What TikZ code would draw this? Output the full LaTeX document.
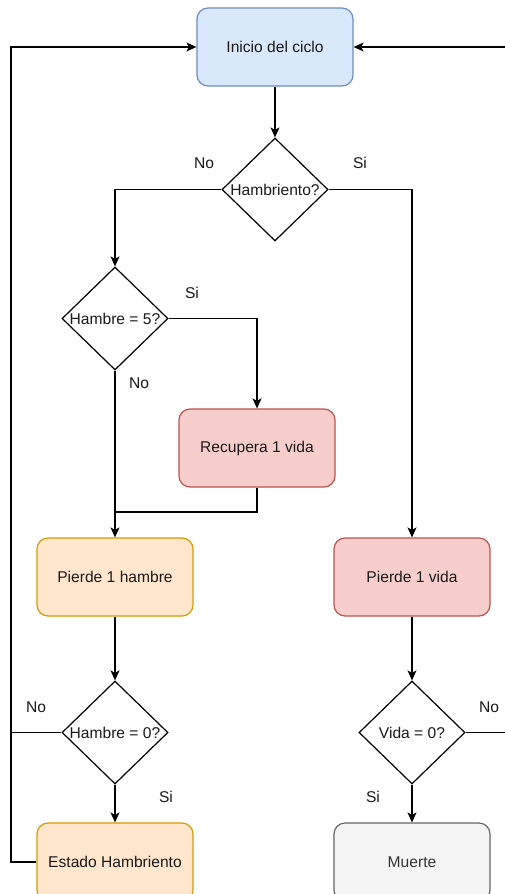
\documentclass[tikz,border=0pt]{standalone}
\usepackage{fontspec}
\setmainfont{Liberation Sans}
\usetikzlibrary{shapes.geometric,arrows.meta}
\definecolor{bluef}{HTML}{DAE8FC}\definecolor{blued}{HTML}{6C8EBF}
\definecolor{redf}{HTML}{F8CECC}\definecolor{redd}{HTML}{B85450}
\definecolor{orf}{HTML}{FFE6CC}\definecolor{ord}{HTML}{D79B00}
\definecolor{grf}{HTML}{F5F5F5}\definecolor{grd}{HTML}{666666}
\definecolor{grt}{HTML}{333333}
\definecolor{txt}{HTML}{1A1A1A}
\tikzset{
  box/.style={draw, rectangle, rounded corners=11pt, minimum width=156pt, minimum height=78pt, line width=1.2pt, inner sep=0pt, text=txt},
  bluebox/.style={box, fill=bluef, draw=blued},
  redbox/.style={box, fill=redf, draw=redd},
  orbox/.style={box, fill=orf, draw=ord},
  grbox/.style={box, fill=grf, draw=grd, text=grt},
  decision/.style={draw, shape=diamond, minimum width=106pt, minimum height=103pt, inner sep=0pt, line width=1.2pt, fill=white, text=txt},
  edge/.style={line width=1.2pt},
  arr/.style={edge, -{Stealth[length=10pt,width=9pt,inset=2.5pt]}},
  lbl/.style={text=txt, inner sep=0pt}
}
\begin{document}
\begin{tikzpicture}[x=1pt,y=-1pt,font=\fontsize{15.6}{18}\selectfont]
\useasboundingbox (0,0) rectangle (505,894);
\clip (0,0) rectangle (505,894);
\fill[white] (0,0) rectangle (505,894);
\node[bluebox] (inicio) at (275,47) {Inicio del ciclo};
\node[decision, label={[lbl]center:Hambriento?}] (h1) at (275,189.5) {};
\node[decision, label={[lbl]center:Hambre = 5?}] (h5) at (115,318.5) {};
\node[redbox] (rec) at (257,448) {Recupera 1 vida};
\node[orbox] (ph) at (115,577) {Pierde 1 hambre};
\node[redbox] (pv) at (412,577) {Pierde 1 vida};
\node[decision, label={[lbl]center:Hambre = 0?}] (h0) at (115,732.5) {};
\node[decision, label={[lbl]center:Vida = 0?}] (vz) at (412,732.5) {};
\node[orbox] (eh) at (115,862) {Estado Hambriento};
\node[grbox] (mu) at (412,862) {Muerte};
\coordinate (j) at (115,512);
\coordinate (lt) at (11,47);
\coordinate (rt) at (520,47);
\draw[arr] (inicio.south) -- (h1.north);
\draw[arr] (h1.west) -| (h5.north);
\draw[arr] (h1.east) -| (pv.north);
\draw[arr] (h5.east) -| (rec.north);
\draw[arr] (h5.south) -- (ph.north);
\draw[edge] (rec.south) |- (j);
\draw[arr] (ph.south) -- (h0.north);
\draw[arr] (h0.south) -- (eh.north);
\draw[edge] (h0.west) -- (h0.west -| lt);
\draw[arr] (eh.west) -| (lt) -- (inicio.west);
\draw[arr] (pv.south) -- (vz.north);
\draw[arr] (vz.south) -- (mu.north);
\draw[arr] (vz.east) -| (rt) -- (inicio.east);
\node[lbl] (l1) at (204,163) {No};
\node[lbl] (l2) at (360,163) {Si};
\node[lbl] (l3) at (192,293) {Si};
\node[lbl] (l4) at (139,383) {No};
\node[lbl] (l5) at (36,707) {No};
\node[lbl] (l6) at (166,797) {Si};
\node[lbl] (l7) at (489,707) {No};
\node[lbl] (l8) at (373,797) {Si};
\end{tikzpicture}
\end{document}
